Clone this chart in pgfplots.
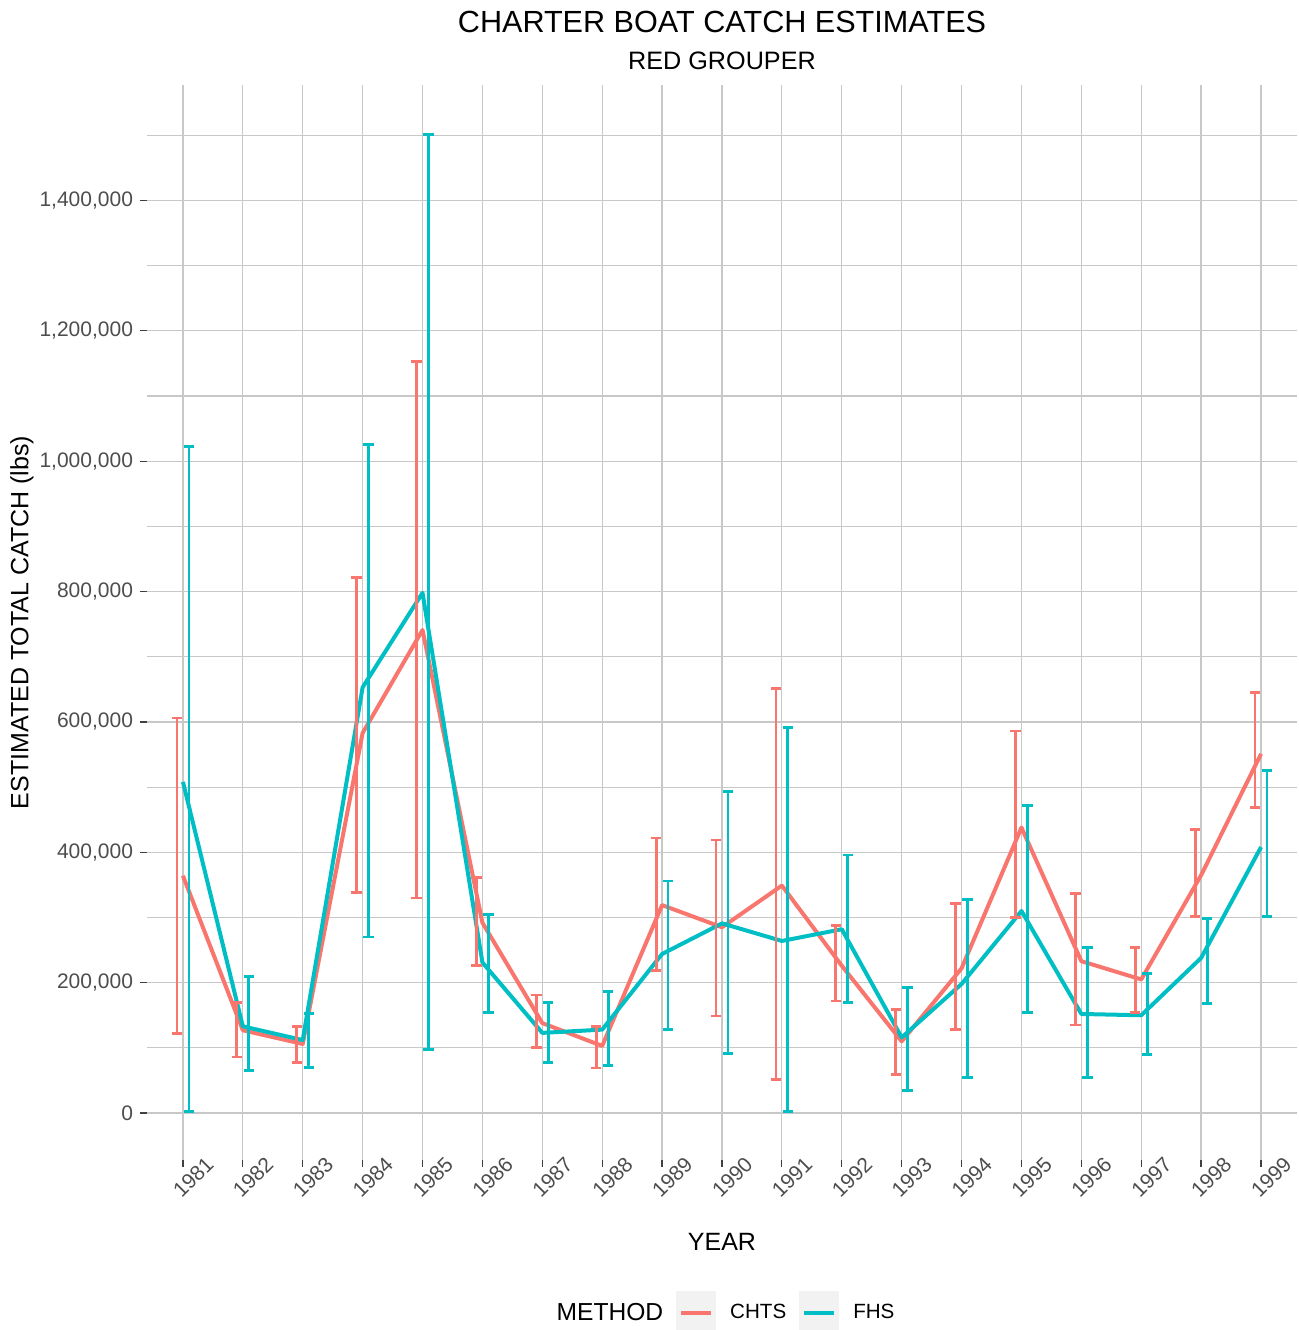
\documentclass[border=0pt]{standalone}
\usepackage{fontspec}
\setmainfont{Liberation Sans}
\usepackage{pgfplots}
\usepackage{pgfplotstable}
\pgfplotsset{compat=1.18}
\definecolor{chts}{HTML}{F8766D}
\definecolor{fhs}{HTML}{00BFC4}
\definecolor{gridc}{HTML}{C8C8C8}
\definecolor{ticklab}{HTML}{4D4D4D}
\definecolor{keybg}{HTML}{F2F2F2}

\pgfplotstableread{
year y lo hi
1981 364000 122000 606000
1982 127000 86000 169000
1983 106000 78000 133000
1984 583000 338000 822000
1985 741000 330000 1153000
1986 292000 226000 361000
1987 138000 101000 181000
1988 103000 69000 133000
1989 319000 219000 422000
1990 285000 149000 419000
1991 349000 51000 651000
1992 226000 172000 288000
1993 110000 59000 159000
1994 222000 128000 322000
1995 438000 300000 586000
1996 233000 135000 337000
1997 205000 154000 254000
1998 365000 301000 435000
1999 551000 469000 645000
}\chtsdata

\pgfplotstableread{
year y lo hi
1981 508000 2000 1022000
1982 133000 65000 209000
1983 112000 70000 153000
1984 653000 270000 1025000
1985 798000 98000 1501000
1986 231000 154000 304000
1987 123000 77000 170000
1988 128000 73000 186000
1989 244000 128000 356000
1990 291000 91000 493000
1991 264000 2000 591000
1992 282000 170000 396000
1993 116000 35000 193000
1994 198000 54000 328000
1995 310000 154000 472000
1996 152000 54000 254000
1997 150000 90000 214000
1998 238000 168000 298000
1999 408000 301000 525000
}\fhsdata

\begin{document}
\begin{tikzpicture}
\path[use as bounding box] (-73.5pt,-85pt) rectangle (576pt,580pt);
\begin{axis}[
  at={(0pt,0pt)}, anchor=south west,
  scale only axis, width=575pt, height=537.5pt,
  xmin=1980.4, xmax=1999.6, ymin=-72000, ymax=1577000,
  xtick={1981,...,1999},
  ytick={0,200000,...,1400000},
  minor ytick={100000,300000,...,1500000},
  grid=both,
  major grid style={gridc, line width=0.6pt},
  minor grid style={gridc, line width=0.6pt},
  axis line style={draw=none},
  tick align=outside, tick pos=left,
  major tick length=3.5pt, minor tick length=0pt,
  tick style={black!75, line width=0.6pt},
  scaled y ticks=false,
  /pgf/number format/assume math mode=true,
  y tick label style={/pgf/number format/.cd, fixed, precision=0, 1000 sep={,}},
  x tick label style={/pgf/number format/1000 sep={}, rotate=45, anchor=north},
  tick label style={font=\fontsize{10.5}{12}\selectfont, color=ticklab},
  xlabel={YEAR},
  ylabel={ESTIMATED TOTAL CATCH (lbs)},
  label style={font=\fontsize{12.5}{15}\selectfont},
  xlabel style={at={(axis description cs:0.5,-0.0763)}, anchor=center},
  ylabel style={at={(axis description cs:-0.1087,0.5)}, anchor=center},
  legend columns=-1,
  legend image code/.code={\fill[keybg] (0pt,-10pt) rectangle (18pt,10pt); \draw[#1] (1.5pt,0pt) -- (16.5pt,0pt);},
  legend style={draw=none, fill=none, at={(0.497,-0.1423)}, anchor=center,
    font=\fontsize{10.3}{12}\selectfont,
    nodes={inner sep=0pt},
    /tikz/every odd column/.append style={column sep=7pt},
    /tikz/every even column/.append style={column sep=6.5pt}},
]
\addlegendimage{empty legend}
\addlegendentry{\fontsize{12.3}{15}\selectfont METHOD}
\addlegendimage{chts, line width=2pt}
\addlegendentry{CHTS}
\addlegendimage{fhs, line width=2pt}
\addlegendentry{FHS}

\addplot[chts, line width=2pt, line join=round, mark=none, forget plot] table[x=year, y=y] {\chtsdata};
\addplot[fhs, line width=2pt, line join=round, mark=none, forget plot] table[x=year, y=y] {\fhsdata};

\addplot[draw=none, mark=none, forget plot,
  error bars/.cd, y dir=both, y explicit, error mark=|,
  error bar style={draw=chts, line width=1.4pt},
  error mark options={draw=chts, line width=1.4pt, mark size=2.6pt}]
  table[x expr=\thisrow{year}-0.1, y=y, y error plus expr=\thisrow{hi}-\thisrow{y}, y error minus expr=\thisrow{y}-\thisrow{lo}] {\chtsdata};
\addplot[draw=none, mark=none, forget plot,
  error bars/.cd, y dir=both, y explicit, error mark=|,
  error bar style={draw=fhs, line width=1.4pt},
  error mark options={draw=fhs, line width=1.4pt, mark size=2.6pt}]
  table[x expr=\thisrow{year}+0.1, y=y, y error plus expr=\thisrow{hi}-\thisrow{y}, y error minus expr=\thisrow{y}-\thisrow{lo}] {\fhsdata};
\end{axis}
\node[font=\fontsize{15.3}{18}\selectfont] at (287.5pt,569pt) {CHARTER BOAT CATCH ESTIMATES};
\node[font=\fontsize{12.6}{15}\selectfont] at (287.5pt,549.5pt) {RED GROUPER};
\end{tikzpicture}
\end{document}
